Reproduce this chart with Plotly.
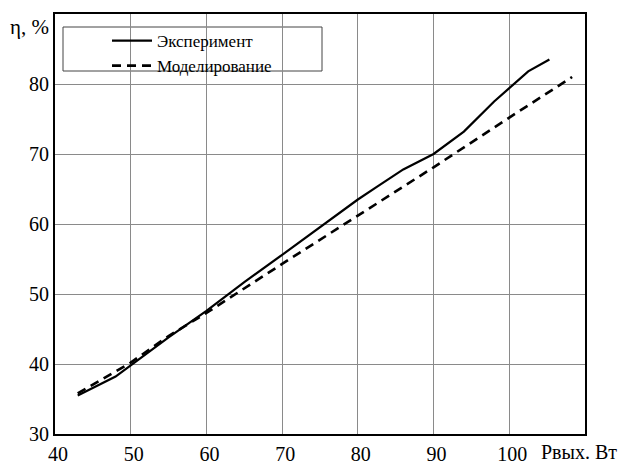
import plotly.graph_objects as go

exp_x = [43.0, 45.0, 48.0, 50.0, 55.0, 60.0, 65.0, 70.0, 75.0, 80.0, 82.5, 86.0, 90.0, 94.0, 98.0, 102.5, 105.3]
exp_y = [35.5, 36.6, 38.2, 39.8, 43.8, 47.6, 51.7, 55.6, 59.6, 63.5, 65.3, 67.8, 70.0, 73.2, 77.5, 81.8, 83.5]

mod_x = [43.0, 50.0, 55.0, 60.0, 70.0, 80.0, 90.0, 100.0, 108.3]
mod_y = [35.8, 40.2, 44.0, 47.3, 54.3, 61.2, 68.1, 75.2, 81.0]

x_ticks = [40, 50, 60, 70, 80, 90, 100]
y_ticks = [30, 40, 50, 60, 70, 80]

names = ["Эксперимент", "Моделирование"]

FONT = "Liberation Serif"

L, R, T, B = 55, 35, 14, 27
PW, PH = 620 - L - R, 461 - T - B


def px(xp):
    return (xp - L) / PW


def py(yp):
    return (461 - B - yp) / PH


fig = go.Figure()
fig.add_trace(go.Scatter(x=exp_x, y=exp_y, mode="lines", name=names[0],
                         line=dict(color="black", width=2.2)))
fig.add_trace(go.Scatter(x=mod_x, y=mod_y, mode="lines", name=names[1],
                         line=dict(color="black", width=2.6, dash="9px,6px")))

axis_common = dict(showgrid=True, gridcolor="#8a8a8a", gridwidth=1,
                   showline=True, linecolor="black", linewidth=2, mirror=True,
                   ticks="", zeroline=False, automargin=False,
                   tickfont=dict(family=FONT, size=20, color="black"))

fig.update_layout(
    width=620, height=461,
    margin=dict(l=L, r=R, t=T, b=B),
    paper_bgcolor="white", plot_bgcolor="white",
    font=dict(family=FONT, color="black", size=20),
    showlegend=True,
    legend=dict(x=px(107), y=py(23), xanchor="left", yanchor="top",
                bgcolor="rgba(0,0,0,0)", borderwidth=0,
                font=dict(family=FONT, size=17, color="black"),
                tracegroupgap=0, itemwidth=40),
    xaxis=dict(range=[40, 110], tickvals=x_ticks, ticktext=[str(v) for v in x_ticks],
               ticklabelstandoff=1, ticklabelshift=3, **axis_common),
    yaxis=dict(range=[30, 90], tickvals=y_ticks, ticktext=[str(v) for v in y_ticks],
               **axis_common),
    shapes=[dict(type="rect", xref="paper", yref="paper",
                 x0=px(63), x1=px(322), y0=py(71), y1=py(27),
                 line=dict(color="#444", width=1), fillcolor="white", layer="below")],
    annotations=[
        dict(text="η, %", xref="paper", yref="paper", x=px(51), y=py(27),
             xanchor="right", yanchor="middle", showarrow=False,
             font=dict(family=FONT, size=21)),
        dict(text="Pвых. Вт", xref="paper", yref="paper",
             x=px(619), y=py(452), xanchor="right", yanchor="middle", showarrow=False,
             font=dict(family=FONT, size=20)),
    ],
)

fig.write_html("out.html", config={"displayModeBar": False},
               post_script="document.body.style.margin='0';document.body.style.overflow='hidden';")
